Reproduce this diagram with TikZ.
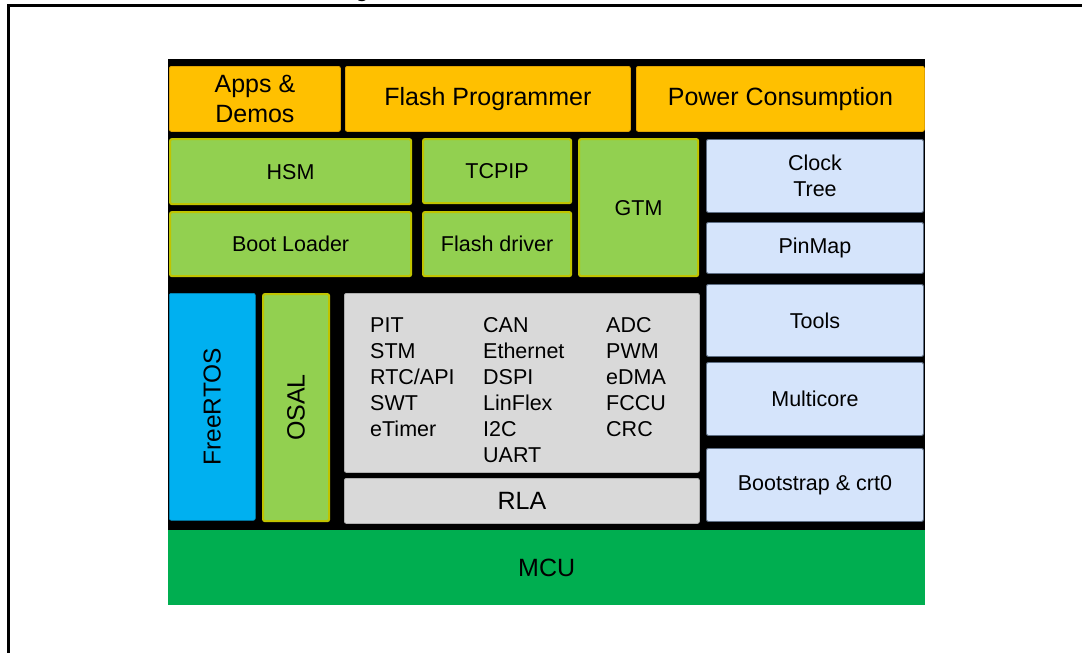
\documentclass[tikz,border=0pt]{standalone}
\usepackage{fontspec}
\setmainfont{Liberation Sans}
\definecolor{orng}{HTML}{FFC000}
\definecolor{orngb}{HTML}{E0A200}
\definecolor{grn}{HTML}{92D050}
\definecolor{grnb}{HTML}{C0C400}
\definecolor{lblue}{HTML}{D5E4FB}
\definecolor{lblueb}{HTML}{5E6E84}
\definecolor{gry}{HTML}{D9D9D9}
\definecolor{gryb}{HTML}{B0B0B0}
\definecolor{cyanb}{HTML}{00B0F0}
\definecolor{mcug}{HTML}{00AE50}
\tikzset{
  blk/.style={draw=none, inner sep=0pt, anchor=north west, rounded corners=2pt, align=center},
  obox/.style={blk, fill=orng, draw=orngb, line width=0.8pt, font=\fontsize{25}{30}\selectfont},
  gbox/.style={blk, fill=grn, draw=grnb, line width=2.2pt, font=\fontsize{21.5}{26}\selectfont},
  bbox/.style={blk, fill=lblue, draw=lblueb, line width=0.9pt, font=\fontsize{21.5}{26}\selectfont},
  rbox/.style={blk, fill=gry, draw=gryb, line width=0.8pt},
  lbl/.style={inner sep=0pt, anchor=base west, font=\fontsize{21.5}{26}\selectfont}
}
\begin{document}
\begin{tikzpicture}[x=1pt,y=-1pt]
\useasboundingbox (0,0) rectangle (1082,653);
% outer frame (extends past right and bottom edges)
\draw[line width=3pt] (8.5,5.5) rectangle (1100,680);
\node[inner sep=0pt, anchor=base, font=\fontsize{25}{30}\selectfont] (ttl) at (362,-3.5) {g};
% black background
\fill[black] (168,59) rectangle (925,605);
% top row
\node[obox, minimum width=171pt, minimum height=65pt] (apps) at (169,66) {Apps \&\\Demos};
\node[obox, minimum width=285pt, minimum height=65pt] (flash) at (345,66) {Flash Programmer};
\node[obox, minimum width=288pt, minimum height=65pt] (power) at (636,66) {Power Consumption};
% green blocks
\node[gbox, minimum width=241pt, minimum height=65pt] (hsm) at (169,138) {HSM};
\node[gbox, minimum width=148pt, minimum height=64pt] (tcpip) at (422,138) {TCPIP};
\node[gbox, minimum width=241pt, minimum height=64pt] (boot) at (169,211) {Boot Loader};
\node[gbox, minimum width=148pt, minimum height=64pt] (fdrv) at (422,211) {Flash driver};
\node[gbox, minimum width=119pt, minimum height=137pt] (gtm) at (578,138) {GTM};
% right column
\node[bbox, minimum width=217pt, minimum height=73pt] (clock) at (706,139) {Clock\\Tree};
\node[bbox, minimum width=217pt, minimum height=51pt] (pinmap) at (706,222) {PinMap};
\node[bbox, minimum width=217pt, minimum height=72pt] (tools) at (706,284) {Tools};
\node[bbox, minimum width=217pt, minimum height=73pt] (multi) at (706,362) {Multicore};
\node[bbox, minimum width=217pt, minimum height=73pt] (bstrap) at (706,448) {Bootstrap \& crt0};
% OS blocks
\node[blk, fill=cyanb, draw=cyanb!80!black, line width=0.6pt, minimum width=86pt, minimum height=227pt] (freertos) at (169,293) {};
\node[inner sep=0pt, rotate=90, font=\fontsize{24.5}{29}\selectfont] (frtxt) at (freertos.center) {FreeRTOS};
\node[blk, fill=grn, draw=grnb, line width=2.2pt, minimum width=66pt, minimum height=227pt] (osal) at (262,293) {};
\node[inner sep=0pt, rotate=90, font=\fontsize{25}{30}\selectfont] (ostxt) at (osal.center) {OSAL};
% peripherals
\node[rbox, minimum width=355pt, minimum height=179pt] (periph) at (344,293) {};
\foreach \t [count=\i] in {PIT,STM,RTC/API,SWT,eTimer}
  \node[lbl] (pa\i) at (370,{332+26*(\i-1)}) {\t};
\foreach \t [count=\i] in {CAN,Ethernet,DSPI,LinFlex,I2C,UART}
  \node[lbl] (pb\i) at (483,{332+26*(\i-1)}) {\t};
\foreach \t [count=\i] in {ADC,PWM,eDMA,FCCU,CRC}
  \node[lbl] (pc\i) at (606,{332+26*(\i-1)}) {\t};
\node[rbox, minimum width=355pt, minimum height=45pt, font=\fontsize{25}{30}\selectfont] (rla) at (344,478) {RLA};
% MCU
\node[blk, rounded corners=0pt, fill=mcug, minimum width=757pt, minimum height=75pt, font=\fontsize{25}{30}\selectfont] (mcu) at (168,530) {MCU};
\end{tikzpicture}
\end{document}
